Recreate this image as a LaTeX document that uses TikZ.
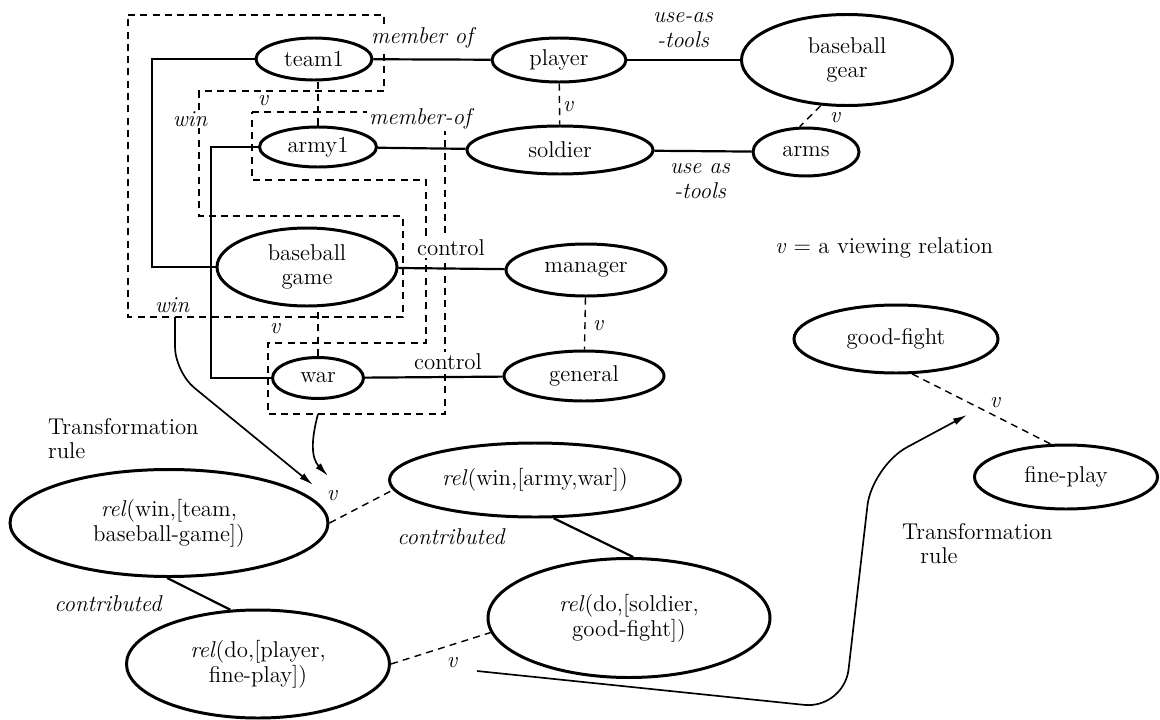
\documentclass[tikz,border=0pt]{standalone}
\usepackage{tikz}
\usetikzlibrary{positioning, calc, arrows.meta, shapes.geometric}
\tikzset{
    oval/.style={ellipse, draw, line width=1.7pt, fill=white, inner sep=0pt, align=center, font=\fontsize{13}{14}\selectfont},
    dims/.style 2 args={minimum width=#1*0.02cm, minimum height=#2*0.02cm},
    link/.style={line width=1.25pt},
    view/.style={line width=0.8pt, dash pattern=on 4pt off 3pt},
    frame/.style={line width=0.8pt, dash pattern=on 4pt off 3pt},
    flow/.style={-{Latex[length=8pt, width=4pt]}, line width=0.95pt},
    lbl/.style={font=\fontsize{13}{14.5}\selectfont\itshape, fill=white, inner sep=1pt, align=center},
    ulbl/.style={font=\fontsize{13}{14.5}\selectfont, fill=white, inner sep=1pt},
    vlbl/.style={font=\fontsize{13}{14}\selectfont\itshape, inner sep=0pt},
    txtnote/.style={font=\fontsize{13}{14}\selectfont, inner sep=1pt, align=left},
}

\begin{document}
\begin{tikzpicture}[x=0.02cm, y=-0.02cm]
    \useasboundingbox (0,0) rectangle (1160,720);

    % Riquadri tratteggiati (win)
    \draw[frame] (128,15) -- (384,15) -- (384,91) -- (199,91) -- (199,216) -- (403,216) -- (403,317) -- (128,317) -- cycle;
    \draw[frame] (252,112) -- (445,112) -- (445,414) -- (268,414) -- (268,343) -- (426,343) -- (426,180) -- (252,180) -- cycle;

    % Concetti
    \node[oval, dims={116}{42}] (team1) at (314,59) {team1};
    \node[oval, dims={134}{44}] (player) at (559,60) {player};
    \node[oval, dims={211}{91}] (gear) at (847,60) {baseball\\gear};
    \node[oval, dims={117}{40}] (army1) at (318,147) {army1};
    \node[oval, dims={186}{48}] (soldier) at (560,150) {soldier};
    \node[oval, dims={106}{48}] (arms) at (806,152) {arms};
    \node[oval, dims={180}{78}] (bbgame) at (307,267) {baseball\\game};
    \node[oval, dims={160}{52}] (manager) at (586,270) {manager};
    \node[oval, dims={91}{41}] (war) at (318,378) {war};
    \node[oval, dims={160}{50}] (general) at (584,376) {general};
    \node[oval, dims={204}{68}] (goodfight) at (896,339) {good-fight};
    \node[oval, dims={183}{64}] (fineplay) at (1066,477) {fine-play};

    % Relazioni
    \node[oval, dims={318}{107}] (relwinteam) at (169,523) {\textit{rel}(win,[team,\\baseball-game])};
    \node[oval, dims={291}{74}] (relwinarmy) at (535,480) {\textit{rel}(win,[army,war])};
    \node[oval, dims={263}{108}] (reldoplayer) at (258,664) {\textit{rel}(do,[player,\\fine-play])};
    \node[oval, dims={282}{119}] (reldosoldier) at (629,618) {\textit{rel}(do,[soldier,\\good-fight])};

    % Collegamenti
    \coordinate (spineA) at (152,0);
    \coordinate (spineB) at (211,0);
    \draw[link] (team1) -- (player);
    \draw[link] (player) -- (gear);
    \draw[link] (army1) -- (soldier);
    \draw[link] (soldier) -- (arms);
    \draw[link] (bbgame) -- (manager);
    \draw[link] (war) -- (general);
    \draw[link] (team1.west) -- (team1.west -| spineA) |- (bbgame.west);
    \draw[link] (army1.west) -- (army1.west -| spineB) |- (war.west);
    \draw[link] (relwinteam.268) -- (reldoplayer.117);
    \draw[link] (relwinarmy.296) -- (reldosoldier.86);

    % Relazioni di vista
    \draw[view] (army1.north) -- (army1.north |- team1.south);
    \draw[view] (player) -- (soldier);
    \draw[view] (gear.240) -- (arms.104);
    \draw[view] (war.north) -- (war.north |- bbgame.south);
    \draw[view] (manager) -- (general);
    \draw[view] (relwinteam.east) -- (relwinarmy.184);
    \draw[view] (reldoplayer.east) -- (reldosoldier.186);
    \draw[view] (goodfight.295) -- (fineplay.115);

    % Frecce di trasformazione
    \coordinate (startA) at (175,317);
    \coordinate (startB) at (318,414);
    \coordinate (startC) at (477,671);
    \coordinate (tipA) at (313,485);
    \coordinate (tipB) at (328,476);
    \coordinate (tipC) at (967,415);
    \draw[flow, rounded corners=0.5cm] (startA) -- (175,372) -- (tipA);
    \draw[flow] (startB) .. controls (311,440) and (311,458) .. (tipB);
    \draw[flow, rounded corners=0.8cm] (startC) -- (844,709) -- (872,466) -- (tipC);

    % Etichette
    \node[lbl] (memberA) at (422,38) {member of};
    \node[lbl] (memberB) at (420,119) {member-of};
    \node[lbl] (winlblA) at (190,119) {win};
    \node[lbl] (winlblB) at (172,305) {win};
    \node[lbl] (useA) at (683,30) {use-as\\-tools};
    \node[lbl] (useB) at (700,181) {use as\\-tools};
    \node[ulbl] (ctrlA) at (451,248) {control};
    \node[ulbl] (ctrlB) at (448,362) {control};
    \node[lbl] (contribA) at (108,604) {contributed};
    \node[lbl] (contribB) at (451,537) {contributed};
    \node[vlbl] (vA) at (263,101) {v};
    \node[vlbl] (vB) at (568,107) {v};
    \node[vlbl] (vC) at (835,118) {v};
    \node[vlbl] (vD) at (275,329) {v};
    \node[vlbl] (vE) at (598,326) {v};
    \node[vlbl] (vF) at (332,496) {v};
    \node[vlbl] (vG) at (452,663) {v};
    \node[vlbl] (vH) at (995,403) {v};
    \node[txtnote, anchor=west] (legend) at (773,248) {\textit{v} = a viewing relation};
    \node[txtnote, anchor=north west] (trL) at (46,416) {Transformation\\rule};
    \node[txtnote, anchor=north west] (trR) at (900,521) {Transformation\\\hspace*{0.8em}rule};
\end{tikzpicture}
\end{document}
